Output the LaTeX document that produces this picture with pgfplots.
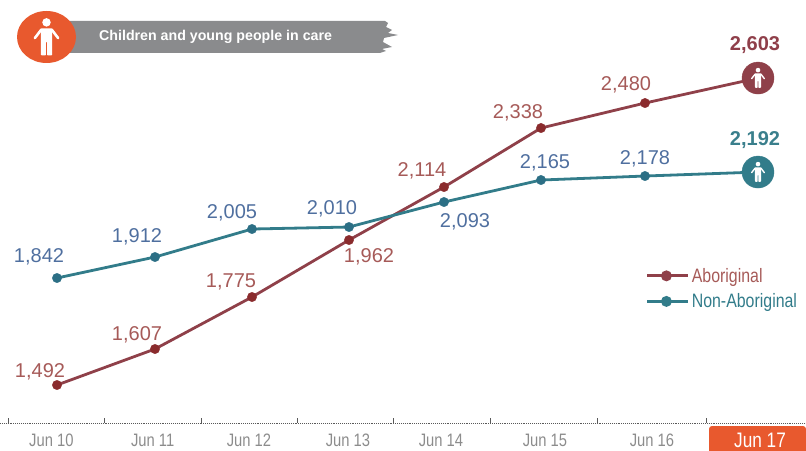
\documentclass[border=0pt]{standalone}
\usepackage{fontspec}
\usepackage{pgfplots}
\pgfplotsset{compat=1.18}
\setmainfont{Liberation Sans}
\newfontfamily\narrow[FakeStretch=0.82]{Liberation Sans}
\definecolor{abline}{HTML}{8F4049}
\definecolor{abmark}{HTML}{8A2B2D}
\definecolor{abtext}{HTML}{A65A58}
\definecolor{abbold}{HTML}{8F3F4A}
\definecolor{nonline}{HTML}{327C8A}
\definecolor{nonmark}{HTML}{2C6F85}
\definecolor{nontext}{HTML}{4F6F9F}
\definecolor{nonbold}{HTML}{3A7F8C}
\definecolor{orangeb}{HTML}{E8592E}
\definecolor{banner}{HTML}{8A8B8D}
\definecolor{ticktext}{HTML}{8C8C8C}
\newcommand\lab[4]{\node[text=#4,font=\fontsize{20}{20}\selectfont,inner sep=0pt] at (#1,{450-#2-1}) {#3};}
\newcommand\blab[4]{\node[text=#4,font=\fontsize{20}{20}\selectfont\bfseries,inner sep=0pt] at (#1,{450-#2-1.5}) {#3};}
\newcommand\person[3]{%
  \begin{scope}[shift={(#1,{450-#2})},scale=#3]
    \fill[white] (0,7.9) circle (2.3);
    \fill[white,rounded corners=0.8pt] (-3.1,4.6) -- (3.1,4.6) -- (3,-10) -- (0.35,-10) -- (0.3,-2.5) -- (-0.3,-2.5) -- (-0.35,-10) -- (-3,-10) -- cycle;
    \draw[white,line width=#3*1.4pt,line cap=round] (-2.8,4) -- (-6.3,-0.6);
    \draw[white,line width=#3*1.4pt,line cap=round] (2.8,4) -- (6.3,-0.6);
  \end{scope}}
\begin{document}
\begin{tikzpicture}[x=1pt,y=1pt]
\path[use as bounding box] (0,0) rectangle (806,450);
% banner
\fill[banner] (60,{450-21}) -- (385,{450-21}) -- (388,{450-23}) -- (386,{450-27}) -- (392,{450-30}) -- (388,{450-33}) -- (398,{450-35}) -- (384,{450-38}) -- (383,{450-42}) -- (392,{450-47}) -- (382,{450-49}) -- (386,{450-51}) -- (380,{450-53}) -- (60,{450-53}) -- cycle;
\fill[orangeb] (46.5,{450-37}) ellipse [x radius=29.5,y radius=26];
\person{46.5}{37}{1.85}
\node[text=white,font=\fontsize{14.2}{15}\selectfont\bfseries,anchor=west,inner sep=0pt] at (99,{450-37}) {Children and young people in care};
% highlighted tick box
\fill[orangeb,rounded corners=3pt] (709,-5) rectangle (806,24);
\begin{axis}[
  at={(0,27)},anchor=south west,
  scale only axis,width=806pt,height=423pt,
  xmin=0,xmax=806,ymin=1370.6,ymax=2987,
  clip=false,
  y coord trafo/.code={\pgfmathparse{#1<1607?65+(#1-1492)*0.31304:
    (#1<1775?101+(#1-1607)*0.30952:
    (#1<1842?153+(#1-1775)*0.28358:
    (#1<1912?172+(#1-1842)*0.3:
    (#1<1962?193+(#1-1912)*0.34:
    (#1<2005?210+(#1-1962)*0.25581:
    (#1<2010?221+(#1-2005)*0.4:
    (#1<2093?223+(#1-2010)*0.3012:
    (#1<2114?248+(#1-2093)*0.71429:
    (#1<2165?263+(#1-2114)*0.13725:
    (#1<2178?270+(#1-2165)*0.30769:
    (#1<2192?274+(#1-2178)*0.28571:
    (#1<2338?278+(#1-2192)*0.30137:
    (#1<2480?322+(#1-2338)*0.17606:
    347+(#1-2480)*0.20325)))))))))))))}},
  axis x line=bottom,axis y line=none,
  x axis line style={-,densely dotted,color=black!65,line width=0.9pt},
  xtick={51.4,152.7,249,348,441,545,652,760},
  xticklabels={Jun 10,Jun 11,Jun 12,Jun 13,Jun 14,Jun 15,Jun 16,{\fontsize{21}{21}\selectfont\color{white}Jun 17}},
  minor xtick={8,104,201,297,393,490,597,706},
  major tick length=0pt,minor tick length=5pt,
  tick align=inside,
  tick style={color=black!65,line width=0.8pt},
  xticklabel style={font=\narrow\fontsize{18}{18}\selectfont,text=ticktext,anchor=center,yshift=-17pt},
  legend style={at={(0.8015,0.371)},anchor=north west,draw=none,fill=none,inner sep=0pt,outer sep=0pt,
    font=\narrow\fontsize{19.4}{19.4}\selectfont,row sep=6pt},
  legend cell align=left,
  legend image code/.code={
    \path (0,0) -- (41pt,0);
    \draw[#1,line width=2pt] (0,0) -- (38pt,0);
    \fill[#1] (19pt,0) circle (4pt);
  },
]
\addplot[abline,line width=2.8pt] coordinates {(57,1492)(155,1607)(252,1775)(349,1962)(444,2114)(541,2338)(645,2480)(758,2603)};
\addlegendentry{\color{abtext}Aboriginal}
\addplot[nonline,line width=2.8pt] coordinates {(57,1842)(155,1912)(252,2005)(349,2010)(444,2093)(541,2165)(645,2178)(758,2192)};
\addlegendentry{\color{nonline}Non-Aboriginal}
\addplot[only marks,mark=*,mark size=4.7pt,color=abmark,forget plot] coordinates {(57,1492)(155,1607)(252,1775)(349,1962)(444,2114)(541,2338)(645,2480)};
\addplot[only marks,mark=*,mark size=4.7pt,color=nonmark,forget plot] coordinates {(57,1842)(155,1912)(252,2005)(349,2010)(444,2093)(541,2165)(645,2178)};
\addplot[only marks,mark=*,mark size=16pt,color=abline,forget plot] coordinates {(758,2603)};
\addplot[only marks,mark=*,mark size=16pt,color=nonline,forget plot] coordinates {(758,2192)};
\end{axis}
\person{758}{78}{1}
\person{758}{172}{1}
\lab{40}{371}{1,492}{abtext}
\lab{137}{334}{1,607}{abtext}
\lab{231}{281}{1,775}{abtext}
\lab{369}{256}{1,962}{abtext}
\lab{422}{170}{2,114}{abtext}
\lab{518}{112}{2,338}{abtext}
\lab{626}{84}{2,480}{abtext}
\blab{755}{44}{2,603}{abbold}
\lab{39}{256}{1,842}{nontext}
\lab{137}{236}{1,912}{nontext}
\lab{232}{212}{2,005}{nontext}
\lab{332}{208}{2,010}{nontext}
\lab{465}{221}{2,093}{nontext}
\lab{545}{162}{2,165}{nontext}
\lab{645}{158}{2,178}{nontext}
\blab{755}{139}{2,192}{nonbold}
\end{tikzpicture}
\end{document}
